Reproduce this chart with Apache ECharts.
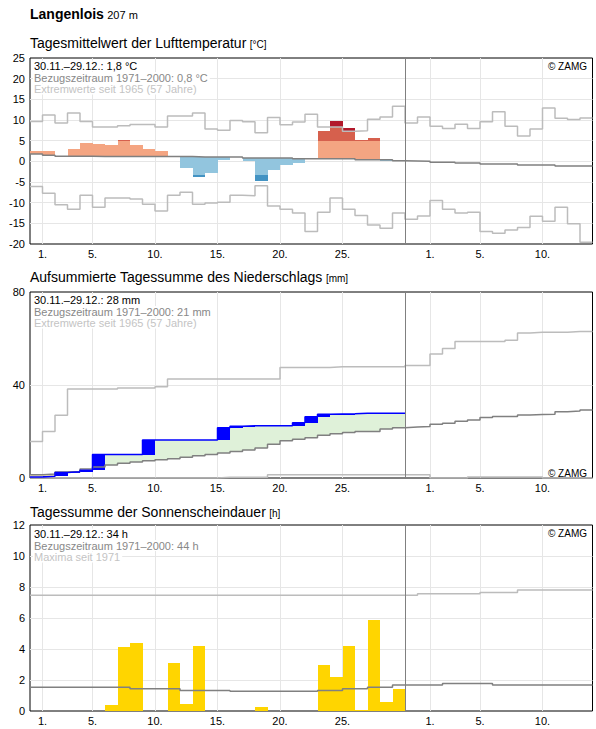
<!DOCTYPE html>
<html><head><meta charset="utf-8">
<script src="https://cdn.jsdelivr.net/npm/echarts@6/dist/echarts.min.js"></script>
<style>html,body{margin:0;padding:0;background:#fff}#c{width:596px;height:729px}</style>
</head><body><div id="c"></div>
<script>
// x = days since start of 30.11. (day i spans [i, i+1]); 45 days shown, 30 observed
const tickDays   = [1, 5, 10, 15, 20, 25, 32, 36, 41];
const tickLabels = ['1.', '5.', '10.', '15.', '20.', '25.', '1.', '5.', '10.'];
const splitDay = 30; // start of 30.12.

// Temperature (°C)
const tempMean = [2.4, 2.6, 1.25, 2.9, 4.5, 4.25, 4.0, 5.1, 3.9, 3.0, 2.55, 1.4, -1.5, -3.9, -2.75, 0.4, 1.05, 0.1, -4.7, -2.05, -0.85, -0.35, 0.6, 7.4, 9.65, 8.15, 5.05, 5.55, 0.0, 0.15];
const tempClim = [1.8, 1.5, 1.25, 1.25, 1.25, 1.15, 1.15, 1.15, 1.15, 1.15, 1.15, 1.15, 1.15, 1.05, 1.05, 1.05, 1.05, 0.8, 0.8, 0.8, 0.8, 0.6, 0.6, 0.6, 0.6, 0.6, 0.4, 0.4, 0.4, 0.15, 0.1, 0.05, -0.2, -0.2, -0.4, -0.4, -0.65, -0.65, -0.65, -0.9, -0.9, -0.9, -1.15, -1.15, -1.15];
const tempExtMax = [9.65, 11.2, 9.3, 11.7, 9.65, 8.3, 8.3, 8.6, 8.9, 8.9, 8.3, 10.95, 10.95, 11.7, 7.8, 7.55, 9.9, 9.6, 6.9, 10.6, 8.85, 9.5, 11.4, 8.3, 8.3, 7.25, 7.4, 10.2, 10.7, 13.3, 9.25, 10.7, 8.5, 7.95, 9.0, 7.95, 9.6, 12.0, 8.5, 6.1, 7.8, 12.9, 10.4, 10.1, 10.5];
const tempExtMin = [-6.1, -7.7, -10.5, -11.6, -8.2, -11.1, -8.9, -8.9, -9.1, -10.4, -12.0, -8.2, -7.5, -10.4, -10.1, -9.9, -8.2, -8.35, -5.9, -10.8, -11.6, -12.5, -17.0, -12.3, -8.9, -11.6, -13.1, -15.4, -16.2, -12.5, -14.0, -13.2, -9.5, -11.6, -12.5, -12.3, -17.0, -17.4, -16.6, -16.0, -13.3, -14.5, -11.1, -15.1, -19.6];
const warmClass = 4.8;   // limit light -> medium red
const coldClass = -3.2;  // limit light -> medium blue

// Precipitation, cumulative (mm)
const precCum = [0.4, 0.7, 2.4, 2.7, 3.3, 10.1, 10.1, 10.1, 10.1, 16.3, 16.3, 16.3, 16.3, 16.3, 16.3, 21.6, 22.3, 22.5, 22.5, 22.5, 22.5, 23.8, 26.3, 27.4, 27.5, 27.6, 27.9, 27.9, 27.9, 27.9];
const precClim = [1.4, 1.7, 2.6, 2.8, 3.9, 4.7, 5.6, 6.3, 6.9, 7.4, 7.9, 8.3, 8.9, 9.6, 10.1, 10.8, 11.4, 12.0, 12.9, 14.5, 16.0, 16.7, 17.3, 18.4, 19.0, 19.6, 20.0, 20.0, 21.1, 21.6, 21.9, 22.1, 23.1, 23.6, 24.4, 24.9, 26.0, 26.4, 26.4, 27.1, 27.3, 27.4, 28.5, 28.8, 29.3];
const precExtMax = [15.7, 20.0, 27.0, 38.3, 38.3, 38.3, 38.3, 38.7, 38.7, 38.7, 39.3, 42.6, 42.6, 42.6, 42.6, 42.6, 42.6, 42.6, 42.6, 42.6, 47.5, 47.5, 47.5, 47.5, 47.8, 47.8, 47.8, 47.8, 47.8, 47.8, 48.4, 48.4, 53.3, 55.7, 58.7, 58.7, 58.7, 58.7, 59.3, 62.4, 62.7, 62.7, 62.7, 63.0, 63.0];
const precExtMin = [0, 0, 0, 0, 0, 0, 0, 0, 0, 0, 0, 0, 0, 0, 0, 0.3, 0.3, 0.3, 0.3, 1.4, 1.4, 1.4, 1.4, 1.4, 1.4, 1.4, 1.4, 1.4, 1.4, 1.4, 1.4, 1.4, 0, 0, 0, 0.4, 0.4, 0.4, 0.4, 0.4, 0.4, 0, 0, 0, 0];

// Sunshine duration (h)
const sunHours = [0, 0, 0, 0, 0, 0, 0.4, 4.1, 4.4, 0, 0, 3.1, 0.45, 4.2, 0, 0, 0, 0, 0.26, 0, 0, 0, 0, 3.0, 2.2, 4.2, 0.06, 5.9, 0.58, 1.4];
const sunClim = [1.53, 1.53, 1.53, 1.53, 1.53, 1.53, 1.53, 1.53, 1.44, 1.44, 1.44, 1.44, 1.33, 1.33, 1.33, 1.33, 1.27, 1.27, 1.27, 1.27, 1.27, 1.27, 1.27, 1.33, 1.33, 1.44, 1.44, 1.53, 1.53, 1.68, 1.68, 1.68, 1.68, 1.78, 1.78, 1.78, 1.78, 1.68, 1.68, 1.68, 1.68, 1.68, 1.68, 1.68, 1.68];
const sunMax = [7.46, 7.46, 7.46, 7.46, 7.46, 7.46, 7.46, 7.46, 7.46, 7.46, 7.46, 7.46, 7.46, 7.46, 7.46, 7.46, 7.46, 7.46, 7.46, 7.46, 7.46, 7.46, 7.46, 7.46, 7.46, 7.46, 7.46, 7.46, 7.46, 7.46, 7.46, 7.57, 7.57, 7.57, 7.57, 7.57, 7.65, 7.65, 7.65, 7.8, 7.8, 7.8, 7.8, 7.8, 7.8];

const FONT = '"Liberation Sans", Arial, sans-serif';
const C = {
  grid: '#e6e6e6', ext: '#bcbcbc', clim: '#808080',
  warm1: '#f4a582', warm2: '#d6604d', warm3: '#b2182b',
  cold1: '#92c5de', cold2: '#4393c3',
  green: '#dff1d9', yellow: '#fdeeb5', blue: '#0000ff', sun: '#ffd500'
};

function R(x0, x1, y0, y1, color) { return { value: [x0, x1, y0, y1], itemStyle: { color } }; }
const tempRects = [];
tempMean.forEach((t, i) => {
  const c = tempClim[i], mx = tempExtMax[i];
  if (t > c) {
    tempRects.push(R(i, i + 1, c, Math.min(t, warmClass), C.warm1));
    if (t > warmClass) tempRects.push(R(i, i + 1, Math.max(c, warmClass), Math.min(t, mx), C.warm2));
    if (t > mx) tempRects.push(R(i, i + 1, Math.max(mx, warmClass, c), t, C.warm3));
  } else if (t < c) {
    tempRects.push(R(i, i + 1, Math.max(t, coldClass), c, C.cold1));
    if (t < coldClass) tempRects.push(R(i, i + 1, t, Math.min(coldClass, c), C.cold2));
  }
});
const precFill = [], precBlue = [];
precCum.forEach((v, i) => {
  const c = precClim[i];
  if (v !== c) precFill.push(R(i, i + 1, Math.min(v, c), Math.max(v, c), v > c ? C.green : C.yellow));
  if (i > 0 && v > precCum[i - 1]) precBlue.push(R(i, i + 1, precCum[i - 1], v, C.blue));
});
const sunRects = [];
sunHours.forEach((v, i) => { if (v > 0) sunRects.push(R(i, i + 1, 0, v, C.sun)); });

function stepData(arr) { const d = arr.map((v, i) => [i, v]); d.push([arr.length, arr[arr.length - 1]]); return d; }
function stepLine(g, arr, color, width, z) {
  return { type: 'line', xAxisIndex: g, yAxisIndex: g, data: stepData(arr), step: 'end', symbol: 'none',
    lineStyle: { color, width }, z, silent: true, animation: false };
}
function rectSeries(g, items, z) {
  return { type: 'custom', xAxisIndex: g, yAxisIndex: g, z, silent: true, animation: false,
    encode: { x: [0, 1], y: [2, 3] },
    renderItem(params, api) {
      const a = api.coord([api.value(0), api.value(2)]), b = api.coord([api.value(1), api.value(3)]);
      const x0 = Math.round(Math.min(a[0], b[0])), x1 = Math.round(Math.max(a[0], b[0]));
      const y0 = Math.round(Math.min(a[1], b[1])), y1 = Math.round(Math.max(a[1], b[1]));
      return { type: 'rect', shape: { x: x0, y: y0, width: x1 - x0, height: Math.max(1, y1 - y0) }, style: { fill: api.visual('color') } };
    },
    data: items };
}
function divider(g) {
  return { type: 'line', xAxisIndex: g, yAxisIndex: g, data: [], silent: true, animation: false, z: 6,
    markLine: { silent: true, symbol: ['none', 'none'], label: { show: false }, animation: false,
      lineStyle: { color: '#808080', width: 1, type: 'solid' }, data: [{ xAxis: splitDay }] } };
}

const grids = [58, 292, 525].map(top => ({ left: 30, top, width: 562.5, height: 186, show: true, borderColor: '#000', borderWidth: 1, backgroundColor: '#fff' }));
const xAxes = [0, 1, 2].map(g => ({
  type: 'value', gridIndex: g, min: 0, max: 45,
  axisLine: { show: false }, axisTick: { show: false, customValues: tickDays },
  axisLabel: { customValues: tickDays, formatter: v => tickLabels[tickDays.indexOf(v)], color: '#000', fontSize: 11, fontFamily: FONT, margin: 4 },
  splitLine: { show: true, lineStyle: { color: C.grid, width: 1 } }
}));
function yAx(g, min, max, interval) {
  return { type: 'value', gridIndex: g, min, max, interval,
    axisLine: { show: false }, axisTick: { show: false },
    axisLabel: { color: '#000', fontSize: 11, fontFamily: FONT, margin: 5 },
    splitLine: { show: true, showMinLine: false, showMaxLine: false, lineStyle: { color: C.grid, width: 1 } } };
}
const yAxes = [yAx(0, -20, 25, 5), yAx(1, 0, 80, 40), yAx(2, 0, 12, 2)];

function legendTexts(x, y, lines) {
  const cols = ['#000', '#888', '#c4c4c4'];
  return lines.map((t, k) => ({ type: 'text', z: 60 - k, x, y: y + k * 11.5,
    style: { text: t, fontSize: 11, fontFamily: FONT, fill: cols[k], verticalAlign: 'middle', backgroundColor: '#fff', padding: [0, 2, 0, 1] } }));
}
function zamg(y) {
  return { type: 'text', z: 50, x: 587, y, style: { text: '© ZAMG', fontSize: 10, fontFamily: FONT, fill: '#000', align: 'right', verticalAlign: 'middle' } };
}
function panelTitle(y, main, unit) {
  return { type: 'text', z: 50, x: 30, y, style: { text: '{a|' + main + '} {b|' + unit + '}', verticalAlign: 'middle',
    rich: { a: { fontSize: 14, fontFamily: FONT, fill: '#000' }, b: { fontSize: 10, fontFamily: FONT, fill: '#000', verticalAlign: 'bottom', padding: [0, 0, 1, 0] } } } };
}

const option = {
  animation: false,
  grid: grids, xAxis: xAxes, yAxis: yAxes,
  series: [
    rectSeries(0, tempRects, 2),
    stepLine(0, tempExtMax, C.ext, 1.5, 3),
    stepLine(0, tempExtMin, C.ext, 1.5, 3),
    stepLine(0, tempClim, C.clim, 1.5, 4),
    divider(0),
    rectSeries(1, precFill, 1),
    rectSeries(1, precBlue, 2),
    stepLine(1, precExtMax, C.ext, 1.5, 3),
    stepLine(1, precExtMin, C.ext, 1.5, 3),
    stepLine(1, precClim, C.clim, 1.5, 4),
    stepLine(1, precCum, C.blue, 1.5, 5),
    divider(1),
    rectSeries(2, sunRects, 2),
    stepLine(2, sunMax, C.ext, 1.5, 3),
    stepLine(2, sunClim, C.clim, 1.5, 4),
    divider(2)
  ],
  graphic: [
    { type: 'text', z: 50, x: 30, y: 14, style: { text: '{a|Langenlois} {b|207 m}', verticalAlign: 'middle',
      rich: { a: { fontSize: 14, fontWeight: 'bold', fontFamily: FONT, fill: '#000' }, b: { fontSize: 11, fontFamily: FONT, fill: '#000', verticalAlign: 'bottom', padding: [0, 0, 1, 0] } } } },
    panelTitle(43, 'Tagesmittelwert der Lufttemperatur', '[°C]'),
    panelTitle(277, 'Aufsummierte Tagessumme des Niederschlags', '[mm]'),
    panelTitle(512, 'Tagessumme der Sonnenscheindauer', '[h]'),
    ...legendTexts(33, 66, ['30.11.–29.12.: 1,8 °C', 'Bezugszeitraum 1971–2000: 0,8 °C', 'Extremwerte seit 1965 (57 Jahre)']),
    ...legendTexts(33, 300, ['30.11.–29.12.: 28 mm', 'Bezugszeitraum 1971–2000: 21 mm', 'Extremwerte seit 1965 (57 Jahre)']),
    ...legendTexts(33, 534, ['30.11.–29.12.: 34 h', 'Bezugszeitraum 1971–2000: 44 h', 'Maxima seit 1971']),
    zamg(66), zamg(473), zamg(533)
  ]
};
const chart = echarts.init(document.getElementById('c'), null, { renderer: 'svg' });
chart.setOption(option);
</script></body></html>
